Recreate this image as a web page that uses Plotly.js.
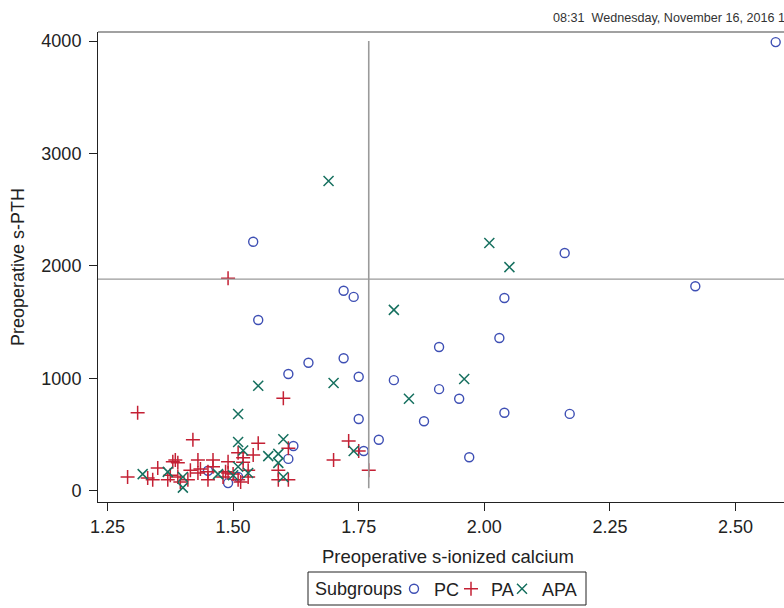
<!DOCTYPE html>
<html>
<head>
<meta charset="utf-8">
<script src="https://cdn.plot.ly/plotly-3.0.1.min.js"></script>
<style>
html,body{margin:0;padding:0;background:#fff;overflow:hidden;width:784px;height:608px;}
#chart{width:798px;height:608px;}
</style>
</head>
<body>
<div id="chart"></div>
<script>
// Subgroup PC (open circles)
const pcX = [2.58,2.16,2.42,2.04,1.54,1.72,1.74,2.03,1.91,1.72,1.75,1.82,1.91,1.95,2.04,2.17,1.75,1.88,1.79,1.76,1.97,1.55,1.65,1.61,1.62,1.61,1.51,1.49,1.45];
const pcY = [3990,2115,1820,1715,2215,1780,1725,1360,1280,1180,1015,985,905,820,695,685,640,620,455,355,300,1520,1140,1040,400,285,125,70,180];
// Subgroup PA (plus)
const paX = [1.31,1.42,1.60,1.55,1.61,1.54,1.52,1.51,1.49,1.46,1.43,1.38,1.39,1.35,1.29,1.33,1.34,1.37,1.375,1.39,1.395,1.41,1.415,1.435,1.43,1.45,1.45,1.46,1.485,1.48,1.49,1.50,1.51,1.53,1.53,1.52,1.59,1.59,1.61,1.385,1.515,1.49,1.73,1.75,1.70,1.77];
const paY = [695,455,825,425,380,320,295,340,260,275,275,260,250,205,125,115,100,100,140,125,80,100,185,195,160,170,100,215,170,125,160,150,100,125,185,255,185,100,100,275,80,1890,445,355,275,185];
// Subgroup APA (x)
const apaX = [1.69,2.01,2.05,1.82,1.70,1.96,1.85,1.74,1.55,1.51,1.51,1.52,1.60,1.59,1.57,1.59,1.60,1.51,1.53,1.50,1.47,1.40,1.40,1.37,1.32];
const apaY = [2755,2205,1990,1610,960,995,820,355,935,685,435,360,460,330,310,250,125,215,160,140,150,125,30,170,150];

const xTicks = [1.25,1.50,1.75,2.00,2.25,2.50];
const xTickText = ["1.25","1.50","1.75","2.00","2.25","2.50"];
const yTicks = [0,1000,2000,3000,4000];
const yTickText = ["0","1000","2000","3000","4000"];
const refX = 1.77;   // vertical reference line
const refY = 1884;   // horizontal reference line
const stamp = "08:31  Wednesday, November 16, 2016 1";
const legendTitle = "Subgroups";

const FONT = "Liberation Sans, Arial, sans-serif";
const cBlue = "#3E4FB4", cRed = "#C42034", cGreen = "#16705F";
const W = 798;                 // full page width (the picture is cropped at 784)
const PL = 98, PW = W - PL;    // plot left and width in px
const px = v => (v - PL) / PW; // px -> paper x
const py = v => -(v - 502) / 470; // px (below plot) -> paper y

const traces = [
  {x: pcX, y: pcY, name: "PC", type: "scatter", mode: "markers", legend: "legend",
   marker: {symbol: "circle-open", size: 9, color: cBlue, line: {width: 1.4, color: cBlue}}},
  {x: paX, y: paY, name: "PA", type: "scatter", mode: "markers", legend: "legend2",
   marker: {symbol: "cross-thin-open", size: 10, color: cRed, line: {width: 1.5, color: cRed}}},
  {x: apaX, y: apaY, name: "APA", type: "scatter", mode: "markers", legend: "legend3",
   marker: {symbol: "x-thin-open", size: 10, color: cGreen, line: {width: 1.5, color: cGreen}}}
];

const legBase = {
  orientation: "h", xanchor: "left", y: py(589), yanchor: "middle",
  borderwidth: 0, bgcolor: "rgba(0,0,0,0)",
  font: {family: FONT, size: 18, color: "#222"}, itemwidth: 30
};

const layout = {
  width: W, height: 608,
  margin: {l: PL, r: 0, t: 32, b: 106},
  paper_bgcolor: "#fff", plot_bgcolor: "#fff",
  font: {family: FONT, size: 18, color: "#222"},
  showlegend: true,
  xaxis: {
    range: [1.2311, 2.6244], tickvals: xTicks, ticktext: xTickText,
    showgrid: false, zeroline: false, showline: true, linecolor: "#222", linewidth: 1,
    ticks: "outside", ticklen: 8, tickcolor: "#222", tickwidth: 1,
    tickfont: {family: FONT, size: 18, color: "#222"},
    title: {text: "Preoperative s-ionized calcium", font: {family: FONT, size: 18.5, color: "#222"}, standoff: 14}
  },
  yaxis: {
    range: [-98, 4080], tickvals: yTicks, ticktext: yTickText,
    showgrid: false, zeroline: false, showline: true, linecolor: "#222", linewidth: 1,
    ticks: "outside", ticklen: 8, tickcolor: "#222", tickwidth: 1, ticklabelstandoff: 4,
    tickfont: {family: FONT, size: 18, color: "#222"},
    title: {text: "Preoperative s-PTH", font: {family: FONT, size: 18, color: "#222"}, standoff: 12}
  },
  legend: Object.assign({}, legBase, {x: px(394)}),
  legend2: Object.assign({}, legBase, {x: px(451)}),
  legend3: Object.assign({}, legBase, {x: px(502)}),
  shapes: [
    {type: "line", xref: "paper", yref: "paper", x0: 0, x1: 1, y0: 1, y1: 1, line: {color: "#444", width: 1.2}},
    {type: "line", xref: "x", yref: "y", x0: refX, x1: refX, y0: 25, y1: 4000, line: {color: "#9a9a9a", width: 1.6}},
    {type: "line", xref: "paper", yref: "y", x0: 0, x1: 1, y0: refY, y1: refY, line: {color: "#9a9a9a", width: 1.2}},
    {type: "rect", xref: "paper", yref: "paper", x0: px(308), x1: px(586), y0: py(572), y1: py(605),
     line: {color: "#222", width: 1}, fillcolor: "rgba(0,0,0,0)"}
  ],
  annotations: [
    {text: stamp, xref: "paper", yref: "paper", x: px(551), y: 1 + (32-18)/470,
     xanchor: "left", yanchor: "middle", showarrow: false,
     font: {family: FONT, size: 12.6, color: "#333"}},
    {text: legendTitle, xref: "paper", yref: "paper", x: px(313), y: py(589),
     xanchor: "left", yanchor: "middle", showarrow: false,
     font: {family: FONT, size: 18, color: "#222"}}
  ]
};

Plotly.newPlot("chart", traces, layout, {displayModeBar: false, staticPlot: true});
</script>
</body>
</html>
